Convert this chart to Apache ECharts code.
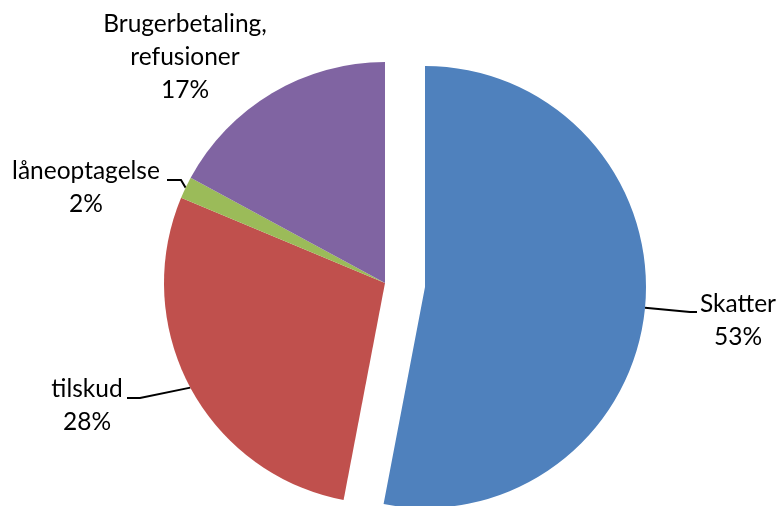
<!DOCTYPE html>
<html><head><meta charset="utf-8">
<script src="https://cdn.jsdelivr.net/npm/echarts@6/dist/echarts.min.js"></script>
<style>html,body{margin:0;padding:0;background:#fff}#c{width:779px;height:506px}</style>
</head><body><div id="c"></div>
<script>
const categories = ['Skatter', 'tilskud', 'låneoptagelse', 'Brugerbetaling, refusioner'];
const values = [53.0, 28.3, 1.6, 17.1];
const colors = ['#4F81BD', '#C0504D', '#9BBB59', '#8064A2'];
const explodedIndex = 0;

// label layout (positions only)
const labelPos = [[738, 321], [87, 406], [86, 188], [185, 57]];
const leaderBends = [[[690, 312], [697, 312]], [[140, 398], [127, 398]], [[181, 180], [167, 180]], null];

const labelCommon = {
  show: true, position: 'outside', color: '#000',
  fontFamily: 'Lato', fontSize: 24.5, lineHeight: 33, align: 'center',
  formatter: p => p.name.replace(', ', ',\n') + '\n' + p.percent + '%'
};
function layoutFn(params) {
  const i = params.dataIndex;
  const r = { x: labelPos[i][0], y: labelPos[i][1], align: 'center', verticalAlign: 'middle' };
  if (leaderBends[i] && params.labelLinePoints) {
    r.labelLinePoints = [params.labelLinePoints[0], leaderBends[i][0], leaderBends[i][1]];
  }
  return r;
}
function makeSeries(center, showExploded) {
  return {
    type: 'pie',
    center: center,
    radius: 221,
    startAngle: 90,
    clockwise: true,
    percentPrecision: 0,
    avoidLabelOverlap: false,
    silent: true,
    emphasis: { disabled: true },
    data: categories.map((n, i) => {
      const visible = (i === explodedIndex) === showExploded;
      return {
        name: n, value: values[i],
        itemStyle: { color: visible ? colors[i] : 'rgba(0,0,0,0)' },
        label: { show: visible },
        labelLine: { show: visible && leaderBends[i] !== null }
      };
    }),
    label: labelCommon,
    labelLine: { show: true, lineStyle: { color: '#000', width: 2 }, length: 10, length2: 10 },
    labelLayout: layoutFn
  };
}

const chart = echarts.init(document.getElementById('c'));
chart.setOption({
  animation: false,
  series: [makeSeries([385, 283], false), makeSeries([425, 287], true)]
});
</script></body></html>
